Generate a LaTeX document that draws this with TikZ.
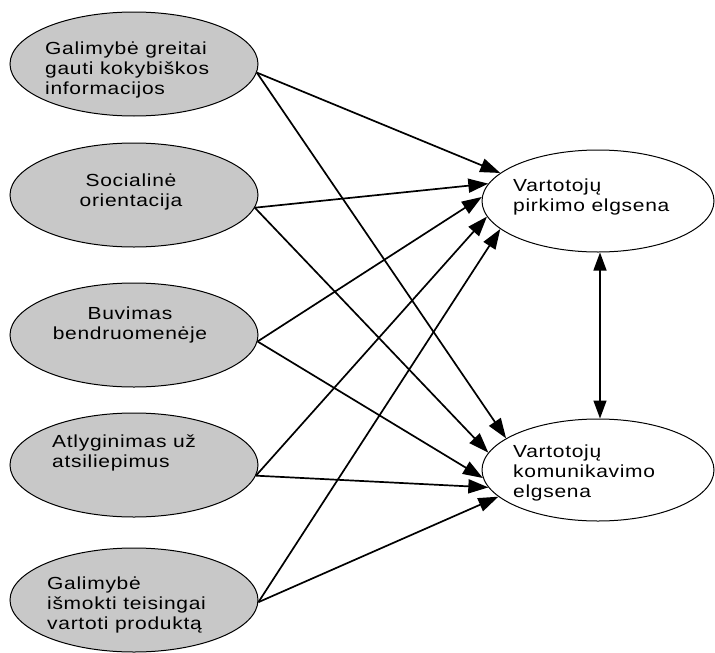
\documentclass[tikz,border=0pt]{standalone}
\usepackage{fontspec}
\usetikzlibrary{arrows.meta,shapes.geometric}
\newfontfamily\labelfont[FakeStretch=1.2,LetterSpace=4]{Liberation Sans}
\definecolor{factorgray}{RGB}{200,200,200}
\begin{document}
\begin{tikzpicture}[x=1pt,y=-1pt,
  factor/.style={ellipse,draw=black,line width=1pt,fill=factorgray,
    minimum width=248pt,minimum height=104pt,inner sep=0pt},
  outcome/.style={ellipse,draw=black,line width=1pt,fill=white,
    minimum width=232pt,minimum height=102pt,inner sep=0pt},
  txt/.style={font=\labelfont\fontsize{17.5}{20}\selectfont,inner sep=0pt,
    anchor=north west,align=left},
  link/.style={line width=1.7pt,-{Triangle[length=20pt,width=14pt]}},
  both/.style={line width=1.4pt,{Triangle[length=18pt,width=13pt]}-{Triangle[length=18pt,width=13pt]}}
]
\useasboundingbox (0,0) rectangle (715,653);

% influencing factors
\node[factor] (e1) at (134,64) {};
\node[factor] (e2) at (134,195) {};
\node[factor] (e3) at (134,335) {};
\node[factor] (e4) at (134,465) {};
\node[factor] (e5) at (134,600) {};

% consumer behaviour
\node[outcome] (r1) at (598,201) {};
\node[outcome] (r2) at (598,470) {};

% labels
\node[txt] (t1) at (45,42) {Galimybė greitai\\gauti kokybiškos\\informacijos};
\node[txt,anchor=north,align=center] (t2) at (131,174) {Socialinė\\orientacija};
\node[txt,anchor=north,align=center] (t3) at (130,307) {Buvimas\\bendruomenėje};
\node[txt] (t4) at (52,435) {Atlyginimas už\\atsiliepimus};
\node[txt] (t5) at (47,577) {Galimybė\\išmokti teisingai\\vartoti produktą};
\node[txt] (t6) at (513,179) {Vartotojų\\pirkimo elgsena};
\node[txt] (t7) at (513,445) {Vartotojų\\komunikavimo\\elgsena};

% paths of influence
\draw[link] (e1.-4) -- (r1.164);
\draw[link] (e1.-4) -- (r2.161);
\draw[link] (e2.-6) -- (r1.171);
\draw[link] (e2.-6) -- (r2.171);
\draw[link] (e3.-3) -- (r1.178);
\draw[link] (e3.-3) -- (r2.184);
\draw[link] (e4.-5) -- (r1.188);
\draw[link] (e4.-5) -- (r2.189);
\draw[link] (e5.-1) -- (r1.196);
\draw[link] (e5.-1) -- (r2.195);

% mutual relation between the two behaviours
\draw[both] ([xshift=2pt]r1.south) -- ([xshift=2pt]r2.north);
\end{tikzpicture}
\end{document}
